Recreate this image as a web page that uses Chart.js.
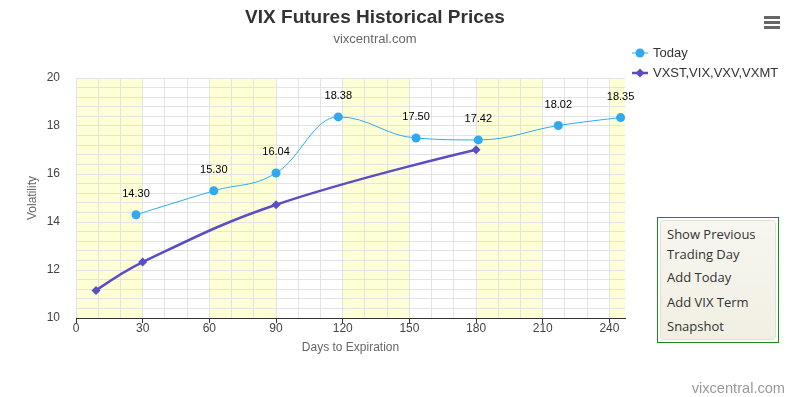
<!DOCTYPE html>
<html>
<head>
<meta charset="utf-8">
<script src="https://cdn.jsdelivr.net/npm/chart.js@4/dist/chart.umd.min.js"></script>
<style>
html,body{margin:0;padding:0;background:#fff;}
#wrap{position:relative;width:794px;height:397px;overflow:hidden;font-family:"Liberation Sans",Arial,sans-serif;}
#c{position:absolute;left:0;top:0;}
#burger{position:absolute;left:764px;top:16px;width:16px;height:13px;}
#burger div{position:absolute;left:0;width:16px;height:3px;background:#666;}
#menu{position:absolute;left:657px;top:217px;width:122px;height:126px;border:1px solid #1a8c1a;box-sizing:border-box;background:#fff;}
#menu .inner{position:absolute;left:2px;top:2px;right:2px;bottom:2px;border:1px solid #e2e0d4;border-radius:4px;background:linear-gradient(#f7f6ef,#f1efe3);}
#menu .it{position:absolute;left:6px;font-family:"Open Sans",sans-serif;font-size:13px;color:#333;line-height:16px;white-space:nowrap;}
</style>
</head>
<body>
<div id="wrap">
<canvas id="c" width="794" height="397"></canvas>
<div id="burger"><div style="top:0"></div><div style="top:5px"></div><div style="top:10px"></div></div>
<div id="menu"><div class="inner">
<div class="it" style="top:5px">Show Previous</div>
<div class="it" style="top:25px">Trading Day</div>
<div class="it" style="top:48px">Add Today</div>
<div class="it" style="top:73px">Add VIX Term</div>
<div class="it" style="top:97px">Snapshot</div>
</div></div>
</div>
<script>
// ---- data ----
const todayDays   = [27, 62, 90, 118, 153, 181, 217, 245];
const todayValues = [14.30, 15.30, 16.04, 18.38, 17.50, 17.42, 18.02, 18.35];
const termDays    = [9, 30, 90, 180];
const termValues  = [11.15, 12.33, 14.72, 17.01];
const termNames   = ["VXST", "VIX", "VXV", "VXMT"];
const bandStarts  = [0, 60, 120, 180, 240];
const bandWidth   = 30;
const xTickLabels = [0, 30, 60, 90, 120, 150, 180, 210, 240];
const yTickLabels = [10, 12, 14, 16, 18, 20];

const titleText = "VIX Futures Historical Prices";
const subtitleText = "vixcentral.com";
const creditText = "vixcentral.com";
const seriesNames = ["Today", termNames.join(",")];

const FONT = '"Liberation Sans", Arial, sans-serif';
const C_TODAY = '#2ea9f2';
const C_TERM = '#5a4ec4';

const bandsPlugin = {
  id: 'bands',
  beforeDraw(chart) {
    const {ctx, chartArea: a, scales: {x}} = chart;
    ctx.save();
    ctx.fillStyle = 'rgba(255,255,0,0.16)';
    bandStarts.forEach(s => {
      const x0 = Math.max(a.left, x.getPixelForValue(s));
      const x1 = Math.min(a.right, x.getPixelForValue(s + bandWidth));
      if (x1 > x0) ctx.fillRect(x0, a.top, x1 - x0, a.bottom - a.top);
    });
    ctx.restore();
  }
};

// spline control points in the style of the original (smoothing 1.5)
const splinePlugin = {
  id: 'spline',
  beforeDatasetsDraw(chart) {
    chart.data.datasets.forEach((ds, di) => {
      const meta = chart.getDatasetMeta(di);
      const line = meta.dataset;
      if (!line) return;
      line.updateControlPoints(chart.chartArea, 'x');
      const pts = meta.data;
      const n = pts.length;
      const sm = 1.5, den = 2.5;
      pts.forEach((p, i) => {
        p.cp1x = p.x; p.cp1y = p.y; p.cp2x = p.x; p.cp2y = p.y;
        if (i === 0 || i === n - 1) return;
        const l = pts[i - 1], r = pts[i + 1];
        let lx = (sm * p.x + l.x) / den, ly = (sm * p.y + l.y) / den;
        let rx = (sm * p.x + r.x) / den, ry = (sm * p.y + r.y) / den;
        if (rx !== lx) {
          const corr = ((ry - ly) * (rx - p.x)) / (rx - lx) + p.y - ry;
          ly += corr; ry += corr;
        }
        if (ly > l.y && ly > p.y) { ly = Math.max(l.y, p.y); ry = 2 * p.y - ly; }
        else if (ly < l.y && ly < p.y) { ly = Math.min(l.y, p.y); ry = 2 * p.y - ly; }
        if (ry > r.y && ry > p.y) { ry = Math.max(r.y, p.y); ly = 2 * p.y - ry; }
        else if (ry < r.y && ry < p.y) { ry = Math.min(r.y, p.y); ly = 2 * p.y - ry; }
        p.cp1x = lx; p.cp1y = ly; p.cp2x = rx; p.cp2y = ry;
      });
    });
  }
};

const labelsPlugin = {
  id: 'dlabels',
  afterDatasetsDraw(chart) {
    const {ctx} = chart;
    const meta = chart.getDatasetMeta(0);
    ctx.save();
    ctx.font = '11px ' + FONT;
    ctx.fillStyle = '#000';
    ctx.textAlign = 'center';
    ctx.textBaseline = 'middle';
    meta.data.forEach((p, i) => {
      ctx.fillText(todayValues[i].toFixed(2), p.x, p.y - 21);
    });
    ctx.restore();
  }
};

const decorPlugin = {
  id: 'decor',
  afterDraw(chart) {
    const {ctx} = chart;
    ctx.save();
    ctx.textAlign = 'center';
    ctx.textBaseline = 'alphabetic';
    ctx.fillStyle = '#333';
    ctx.font = 'bold 19px ' + FONT;
    ctx.fillText(titleText, 375, 23);
    ctx.fillStyle = '#666';
    ctx.font = '13px ' + FONT;
    ctx.fillText(subtitleText, 375, 43);
    ctx.textAlign = 'right';
    ctx.fillStyle = '#999';
    ctx.font = '14.6px ' + FONT;
    ctx.fillText(creditText, 785, 393);
    // legend
    const items = [
      {y: 53, color: C_TODAY, w: 1, style: 'circle'},
      {y: 73, color: C_TERM, w: 2.5, style: 'diamond'}
    ];
    ctx.textAlign = 'left';
    ctx.textBaseline = 'middle';
    ctx.font = '13px ' + FONT;
    items.forEach((it, i) => {
      ctx.strokeStyle = it.color;
      ctx.lineWidth = it.w;
      ctx.beginPath(); ctx.moveTo(632, it.y); ctx.lineTo(648, it.y); ctx.stroke();
      ctx.fillStyle = it.color;
      ctx.beginPath();
      if (it.style === 'circle') ctx.arc(640, it.y, 4.5, 0, Math.PI * 2);
      else { ctx.moveTo(640, it.y - 4.5); ctx.lineTo(644.5, it.y); ctx.lineTo(640, it.y + 4.5); ctx.lineTo(635.5, it.y); ctx.closePath(); }
      ctx.fill();
      ctx.fillStyle = '#333';
      ctx.fillText(seriesNames[i], 653, it.y + 0.5);
    });
    ctx.restore();
  }
};

new Chart(document.getElementById('c'), {
  type: 'line',
  data: {
    datasets: [
      {
        label: seriesNames[0],
        data: todayDays.map((d, i) => ({x: d, y: todayValues[i]})),
        borderColor: C_TODAY, backgroundColor: C_TODAY,
        borderWidth: 1, tension: 0.4,
        pointRadius: 4.5, pointBorderWidth: 0, pointBackgroundColor: C_TODAY,
        fill: false
      },
      {
        label: seriesNames[1],
        data: termDays.map((d, i) => ({x: d, y: termValues[i]})),
        borderColor: C_TERM, backgroundColor: C_TERM,
        borderWidth: 2.5, tension: 0.4,
        pointStyle: 'rectRot', pointRadius: 4.5, pointBorderWidth: 0, pointBackgroundColor: C_TERM,
        fill: false
      }
    ]
  },
  options: {
    responsive: false,
    animation: false,
    events: [],
    layout: {padding: {top: 78, right: 169, bottom: 0, left: 0}},
    plugins: {legend: {display: false}, tooltip: {enabled: false}, title: {display: false}},
    scales: {
      x: {
        type: 'linear', min: 0, max: 247,
        afterFit: s => { s.height = 79; },
        ticks: {
          stepSize: 10, autoSkip: false, maxRotation: 0, padding: -2, includeBounds: false,
          color: '#444', font: {size: 12, family: FONT},
          callback: v => xTickLabels.includes(v) ? String(v) : ''
        },
        grid: {
          color: c => (c.tick && c.tick.value % 10 === 0) ? '#e3e3e3' : 'rgba(0,0,0,0)',
          tickColor: c => (c.tick && xTickLabels.includes(c.tick.value)) ? '#333' : 'rgba(0,0,0,0)',
          tickLength: 5, lineWidth: 1
        },
        border: {display: true, color: '#333', width: 1},
        title: {display: true, text: 'Days to Expiration', color: '#666', font: {size: 12, family: FONT}, padding: {top: 0, bottom: 42}}
      },
      y: {
        type: 'linear', min: 10, max: 20,
        afterFit: s => { s.width = 76; },
        ticks: {
          stepSize: 0.4, autoSkip: false, padding: 16,
          color: '#444', font: {size: 12, family: FONT},
          callback: v => { const r = Math.round(v); return (Math.abs(v - r) < 1e-6 && yTickLabels.includes(r)) ? String(r) : ''; }
        },
        grid: {color: '#e3e3e3', drawTicks: false, lineWidth: 1},
        border: {display: false},
        title: {display: true, text: 'Volatility', color: '#666', font: {size: 12, family: FONT}, padding: {top: 25, bottom: 0}}
      }
    }
  },
  plugins: [bandsPlugin, splinePlugin, labelsPlugin, decorPlugin]
});
</script>
</body>
</html>
